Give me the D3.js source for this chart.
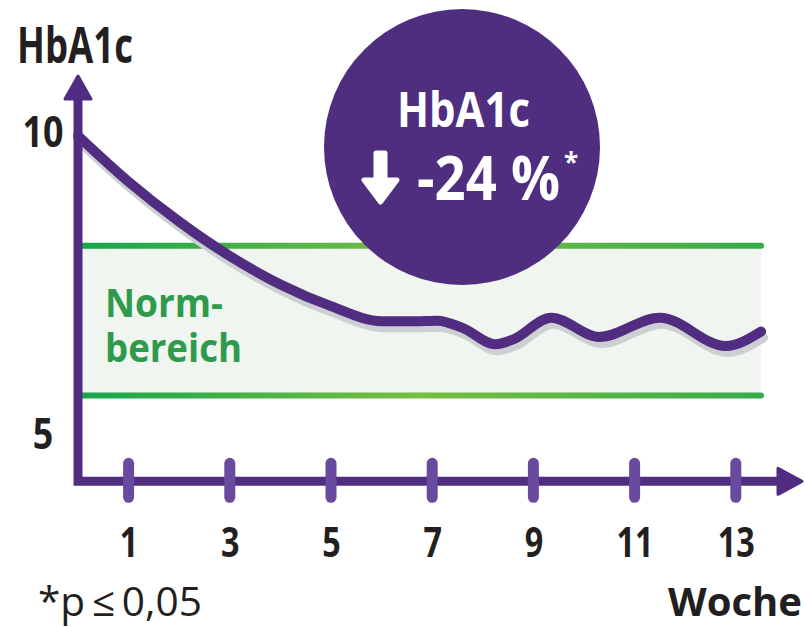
<!DOCTYPE html>
<html>
<head>
<meta charset="utf-8">
<script src="https://cdn.jsdelivr.net/npm/d3@7/dist/d3.min.js"></script>
<style>
html,body{margin:0;padding:0;background:#fff;}
svg{display:block;}
text{font-family:"Open Sans","Noto Sans",sans-serif;}
</style>
</head>
<body>
<svg id="chart" width="805" height="627"></svg>
<script>
// ---- data ----
const weeks  = [0, 1, 2, 3, 4, 5, 6, 6.6, 7.1, 7.6, 8.25, 8.6, 9.35, 10.3, 11.5, 12.8, 13.5];
const hba1c  = [9.92, 9.16, 8.50, 7.93, 7.46, 7.10, 6.85, 6.85, 6.86, 6.74, 6.47, 6.55, 6.91, 6.59, 6.91, 6.44, 6.68];
const xTickValues = [1, 3, 5, 7, 9, 11, 13];
const yTickValues = [5, 10];
const normRange = [5.62, 8.1];
const axisMinValue = 4.2;
const axisMaxValue = 10.55;
const xAxisMax = 14.0;
const bandEndWeek = 13.5;
const circleTitle = "HbA1c";
const circleValue = "-24 %";
const normLabel = ["Norm-", "bereich"];
const footnote = "*p\u2009\u2264\u20090,05";

// ---- scales ----
const x = d3.scaleLinear().domain([0, 14]).range([78, 786.4]);
const y = d3.scaleLinear().domain([5, 10]).range([433, 131]);

const svg = d3.select("#chart");
const PURPLE = "#512d81";
const TICK = "#6a4a9f";
const GREEN_TEXT = "#2f9a4c";
const DARK = "#231f20";

// gradient for green lines
const defs = svg.append("defs");
const grad = defs.append("linearGradient").attr("id", "gl").attr("gradientUnits", "userSpaceOnUse")
  .attr("x1", x(0)).attr("x2", x(bandEndWeek)).attr("y1", 0).attr("y2", 0);
grad.append("stop").attr("offset", "0").attr("stop-color", "#17a54b");
grad.append("stop").attr("offset", "0.5").attr("stop-color", "#79be43");
grad.append("stop").attr("offset", "1").attr("stop-color", "#36ab4a");

// band
svg.append("rect")
  .attr("x", x(0)).attr("y", y(normRange[1]))
  .attr("width", x(bandEndWeek) - x(0))
  .attr("height", y(normRange[0]) - y(normRange[1]))
  .attr("fill", "#f0f5f0");
svg.selectAll("line.norm").data(normRange).join("line")
  .attr("class", "norm")
  .attr("x1", x(0)).attr("x2", x(bandEndWeek))
  .attr("y1", d => y(d)).attr("y2", d => y(d))
  .attr("stroke", "url(#gl)").attr("stroke-width", 6).attr("stroke-linecap", "round");

// curve
const pts = weeks.map((w, i) => [w, hba1c[i]]);
const line = d3.line().x(d => x(d[0])).y(d => y(d[1])).curve(d3.curveMonotoneX);
svg.append("path").attr("d", line(pts)).attr("fill", "none")
  .attr("stroke", "#cdd0d2").attr("stroke-width", 10).attr("stroke-linecap", "round")
  .attr("transform", "translate(2,6)");
svg.append("path").attr("d", line(pts)).attr("fill", "none")
  .attr("stroke", PURPLE).attr("stroke-width", 10).attr("stroke-linecap", "round").attr("stroke-linejoin", "round");

// axes
const y0 = y(axisMinValue);
const yTop = y(axisMaxValue);
svg.append("path")
  .attr("d", `M${x(0)},${yTop} L${x(0)},${y0} L${x(xAxisMax)},${y0}`)
  .attr("fill", "none").attr("stroke", PURPLE).attr("stroke-width", 9).attr("stroke-linejoin", "miter");
// arrowheads
svg.append("path")
  .attr("d", `M${x(0)},76 L${x(0) - 13},99 L${x(0) + 13},99 Z`)
  .attr("fill", PURPLE).attr("stroke", PURPLE).attr("stroke-width", 3).attr("stroke-linejoin", "round");
svg.append("path")
  .attr("d", `M802,${y0} L778,${y0 - 13} L778,${y0 + 13} Z`)
  .attr("fill", PURPLE).attr("stroke", PURPLE).attr("stroke-width", 3).attr("stroke-linejoin", "round");

// x ticks
svg.selectAll("rect.tick").data(xTickValues).join("rect")
  .attr("class", "tick")
  .attr("x", d => x(d) - 5.5).attr("y", y0 - 23.5)
  .attr("width", 11).attr("height", 45).attr("rx", 5.5)
  .attr("fill", TICK);

// x tick labels via axis
const xAxis = d3.axisBottom(x).tickValues(xTickValues).tickSize(0).tickPadding(0).tickFormat(d3.format("d"));
const gx = svg.append("g").attr("transform", `translate(0,557)`).call(xAxis);
gx.select(".domain").remove();
gx.selectAll("text")
  .attr("dy", 0).attr("y", 0)
  .attr("font-size", 42).attr("font-weight", 700).attr("fill", DARK)
  .style("font-family", '"Open Sans","Noto Sans",sans-serif')
  .attr("textLength", d => String(d).length * 18.5).attr("lengthAdjust", "spacingAndGlyphs");

// y labels
svg.selectAll("text.ylab").data(yTickValues).join("text")
  .attr("class", "ylab")
  .attr("x", 43).attr("y", d => y(d) + 15.5)
  .attr("text-anchor", "middle")
  .attr("font-size", 43).attr("font-weight", 700).attr("fill", DARK)
  .attr("textLength", d => String(d).length * 20.5).attr("lengthAdjust", "spacingAndGlyphs")
  .text(d => d);

// titles
svg.append("text").attr("x", 17).attr("y", 63)
  .attr("font-size", 50).attr("font-weight", 700).attr("fill", DARK)
  .attr("textLength", 116).attr("lengthAdjust", "spacingAndGlyphs").text("HbA1c");
svg.append("text").attr("x", 668).attr("y", 616)
  .attr("font-size", 40).attr("font-weight", 700).attr("fill", DARK)
  .attr("textLength", 134).attr("lengthAdjust", "spacingAndGlyphs").text("Woche");
svg.append("text").attr("x", 38).attr("y", 616)
  .attr("font-size", 40).attr("font-weight", 400).attr("fill", DARK)
  .attr("textLength", 164).attr("lengthAdjust", "spacingAndGlyphs").text(footnote);

// Normbereich label (one text, two lines)
const norm = svg.append("text")
  .attr("font-size", 40).attr("font-weight", 700).attr("fill", GREEN_TEXT);
norm.append("tspan").attr("x", 105).attr("y", 317)
  .attr("textLength", 118).attr("lengthAdjust", "spacingAndGlyphs").text(normLabel[0]);
norm.append("tspan").attr("x", 105).attr("y", 362)
  .attr("textLength", 137).attr("lengthAdjust", "spacingAndGlyphs").text(normLabel[1]);

// circle badge
svg.append("circle").attr("cx", 462).attr("cy", 147).attr("r", 138).attr("fill", "#4f2d7f");
svg.append("text").attr("x", 397).attr("y", 127)
  .attr("font-size", 48).attr("font-weight", 700).attr("fill", "#fff")
  .attr("textLength", 133).attr("lengthAdjust", "spacingAndGlyphs").text(circleTitle);
const val = svg.append("text").attr("font-weight", 700).attr("fill", "#fff");
val.append("tspan").attr("x", 417).attr("y", 200).attr("font-size", 60)
  .attr("textLength", 143).attr("lengthAdjust", "spacingAndGlyphs").text(circleValue);
val.append("tspan").attr("x", 564).attr("y", 172).attr("font-size", 26).text("*");
// down arrow
svg.append("path")
  .attr("d", "M376,153 L385,153 L385,180 L397,180 L380.5,202 L364,180 L376,180 Z")
  .attr("fill", "#fff").attr("stroke", "#fff").attr("stroke-width", 5).attr("stroke-linejoin", "round");
</script>
</body>
</html>
